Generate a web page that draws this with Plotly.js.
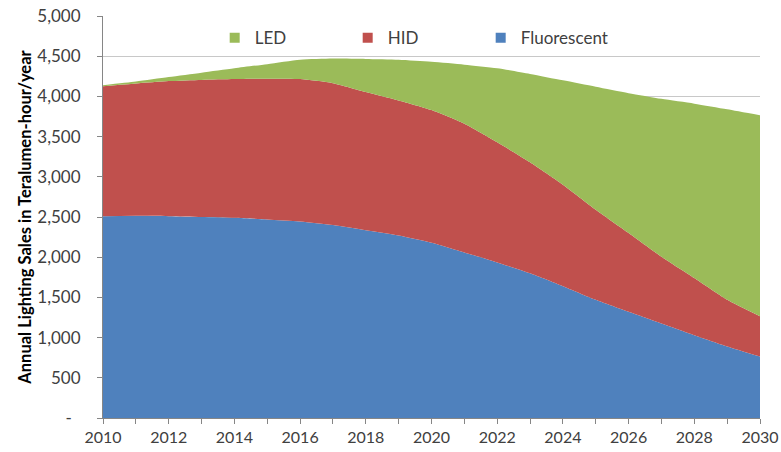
<!DOCTYPE html>
<html>
<head>
<meta charset="utf-8">
<script src="https://cdn.plot.ly/plotly-3.0.1.min.js"></script>
<style>html,body{margin:0;padding:0;background:#fff;}#chart{width:781px;height:452px;}</style>
</head>
<body>
<div id="chart"></div>
<script>
// Data
const years = [2010,2011,2012,2013,2014,2015,2016,2017,2018,2019,2020,2021,2022,2023,2024,2025,2026,2027,2028,2029,2030];
const fluorescent = [2510,2515,2510,2500,2490,2470,2445,2400,2335,2270,2180,2060,1935,1800,1640,1470,1320,1175,1030,890,765];
const hid = [1615,1645,1680,1705,1725,1750,1770,1765,1720,1680,1650,1600,1495,1380,1260,1120,980,830,710,580,500];
const led = [15,25,50,90,135,180,240,305,410,505,600,735,920,1100,1300,1530,1740,1965,2170,2370,2500];
const seriesNames = ['Fluorescent','HID','LED'];
const seriesColors = ['#4F81BD','#C0504D','#9BBB59'];
const yTickVals = [0,500,1000,1500,2000,2500,3000,3500,4000,4500,5000];
const yTickText = ['-\u00a0\u00a0','500','1,000','1,500','2,000','2,500','3,000','3,500','4,000','4,500','5,000'];
const xTickText = years.map(y => (y % 2 === 0 ? String(y) : ''));

const seriesData = [fluorescent, hid, led];
const traces = [];
seriesData.forEach((vals, i) => {
  traces.push({
    type: 'scatter', x: years, y: vals, name: seriesNames[i],
    stackgroup: 'one', mode: 'none', fillcolor: seriesColors[i],
    line: {width: 0, shape: 'spline', smoothing: 0.6}, showlegend: false, hoverinfo: 'x+y+name'
  });
});
// legend entries (square swatches), in the reference order LED, HID, Fluorescent
[2,1,0].forEach(i => {
  traces.push({
    type: 'scatter', x: [null], y: [null], name: seriesNames[i], mode: 'markers',
    marker: {symbol: 'square', size: 10, color: seriesColors[i]}, showlegend: true
  });
});

const layout = {
  width: 781, height: 452,
  margin: {l: 103, r: 21, t: 16, b: 34},
  paper_bgcolor: '#ffffff', plot_bgcolor: '#ffffff',
  font: {family: 'Lato, "Open Sans", sans-serif', color: '#404040', size: 16},
  showlegend: true,
  legend: {
    orientation: 'h', x: 0.17, xanchor: 'left', y: 0.945, yanchor: 'middle',
    font: {size: 17, color: '#404040'}, bgcolor: 'rgba(0,0,0,0)',
    entrywidth: 88, entrywidthmode: 'pixels', traceorder: 'normal'
  },
  xaxis: {
    range: [2010, 2030], tickvals: years, ticktext: xTickText,
    ticks: 'outside', ticklen: 5, tickcolor: '#868686',
    showline: true, linecolor: '#868686', linewidth: 1,
    showgrid: false, zeroline: false, fixedrange: true,
    tickfont: {size: 16, color: '#404040'}
  },
  yaxis: {
    range: [0, 5000], tickvals: yTickVals, ticktext: yTickText,
    ticks: 'outside', ticklen: 5, tickcolor: '#868686',
    showline: true, linecolor: '#868686', linewidth: 1,
    showgrid: true, gridcolor: '#C8C8C8', gridwidth: 1, zeroline: false,
    tickfont: {size: 17, color: '#404040'}, ticklabelstandoff: 13,
    title: {text: 'Annual Lighting Sales in Teralumen-hour/year', standoff: 1,
            font: {size: 16.5, color: '#000000', family: 'Lato, "Open Sans", sans-serif', weight: 'bold'}},
    automargin: false, fixedrange: true
  }
};

Plotly.newPlot('chart', traces, layout, {displayModeBar: false, staticPlot: true});
</script>
</body>
</html>
